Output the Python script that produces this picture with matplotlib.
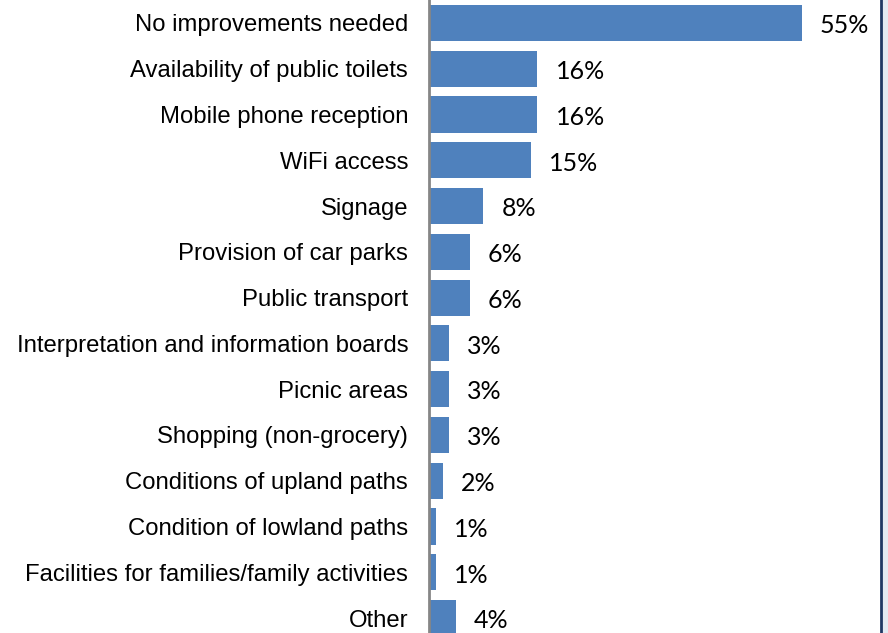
import matplotlib.pyplot as plt
from matplotlib.patches import Rectangle
from matplotlib.lines import Line2D

categories = [
    "No improvements needed",
    "Availability of public toilets",
    "Mobile phone reception",
    "WiFi access",
    "Signage",
    "Provision of car parks",
    "Public transport",
    "Interpretation and information boards",
    "Picnic areas",
    "Shopping (non-grocery)",
    "Conditions of upland paths",
    "Condition of lowland paths",
    "Facilities for families/family activities",
    "Other",
]
percent = [55, 16, 16, 15, 8, 6, 6, 3, 3, 3, 2, 1, 1, 4]

W, H = 888, 633
fig = plt.figure(figsize=(W / 100, H / 100), dpi=100)
fig.patch.set_facecolor("white")

# plot area: value axis at x=429px, right frame at 880px
ax = fig.add_axes([429 / W, 0, (880 - 429) / W, 1])
ax.set_facecolor("white")

pos = list(range(len(categories)))
ax.barh(pos, percent, height=0.79, color="#4f81bd", zorder=2)

row = 45.77
ax.set_ylim(13 + (H - 618) / row, -23 / row)
ax.set_xlim(0, (880 - 429) / 6.78)

ax.set_yticks(pos)
ax.set_yticklabels(categories, fontsize=17.2, family="Liberation Sans", color="#000000")
ax.tick_params(axis="y", length=0, pad=15)
ax.set_xticks([])

for s in ["top", "right", "bottom"]:
    ax.spines[s].set_visible(False)
ax.spines["left"].set_color("#868686")
ax.spines["left"].set_linewidth(2)

for y, v in zip(pos, percent):
    ax.annotate(f"{v}%", xy=(v, y), xytext=(13, -2), textcoords="offset points",
                ha="left", va="center", fontsize=18, family="Lato", color="#000000")

# frame on the right edge
fig.add_artist(Rectangle((882 / W, 0), (W - 882) / W, 1, transform=fig.transFigure,
                         facecolor="#e3eaf2", edgecolor="none"))
fig.add_artist(Line2D([881 / W, 881 / W], [0, 1], transform=fig.transFigure,
                      color="#1f3864", linewidth=2))

fig.savefig("out.png", dpi=100)
